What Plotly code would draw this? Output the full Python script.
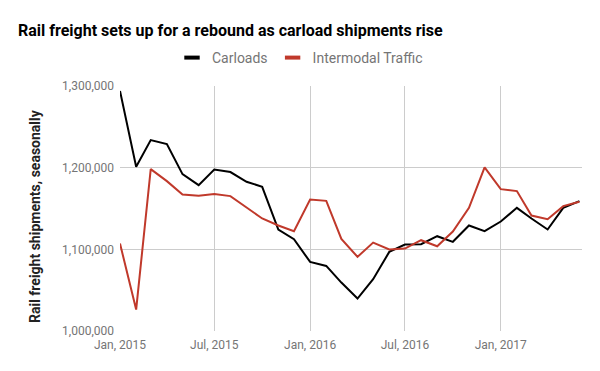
import plotly.graph_objects as go
import pandas as pd

months = pd.date_range("2015-01-01", "2017-06-01", freq="MS").strftime("%Y-%m-%d").tolist()

carloads = [1293900, 1201100, 1233800, 1228900, 1192100, 1178600, 1197800, 1194600,
            1182700, 1176600, 1124300, 1112400, 1084600, 1079700, 1059300, 1039700,
            1063400, 1096900, 1105900, 1106300, 1116100, 1109200, 1129200, 1122200,
            1134100, 1150800, 1137800, 1124300, 1150800, 1159000]

intermodal = [1107100, 1026200, 1198200, 1183500, 1167200, 1165600, 1167600, 1165200,
              1151200, 1137800, 1129200, 1122200, 1161100, 1159400, 1112800, 1090800,
              1108300, 1099800, 1101000, 1111200, 1103800, 1121800, 1150800, 1200300,
              1173700, 1171300, 1141400, 1136900, 1152900, 1158200]

x_ticks = ["2015-01-01", "2015-07-01", "2016-01-01", "2016-07-01", "2017-01-01"]
x_tick_labels = ["Jan, 2015", "Jul, 2015", "Jan, 2016", "Jul, 2016", "Jan, 2017"]
y_ticks = [1000000, 1100000, 1200000, 1300000]
y_tick_labels = ["1,000,000", "1,100,000", "1,200,000", "1,300,000"]

series = [("Carloads", carloads, "#000000"), ("Intermodal Traffic", intermodal, "#c0392b")]

fig = go.Figure()
for name, vals, color in series:
    fig.add_trace(go.Scatter(x=months, y=vals, mode="lines", name=name, showlegend=False,
                             line=dict(color=color, width=2)))
for name, vals, color in series:
    fig.add_trace(go.Scatter(x=[None], y=[None], mode="markers", name=name,
                             marker=dict(symbol="line-ew-open", size=11, color=color,
                                         line=dict(color=color, width=4))))

fig.update_layout(
    width=600, height=371,
    margin=dict(l=120, r=18, t=86, b=40, autoexpand=False),
    plot_bgcolor="white", paper_bgcolor="white",
    font=dict(family="Roboto", color="#757575"),
    title=dict(text="<b>Rail freight sets up for a rebound as carload shipments rise</b>",
               x=18/600, xanchor="left", y=1-30/371, yanchor="middle",
               font=dict(family="Roboto", size=16, color="#000000")),
    legend=dict(orientation="h", x=0.5, xref="container", xanchor="center",
                y=1+(86-58)/245, yref="paper",
                yanchor="middle", font=dict(size=14, color="#757575"),
                itemwidth=30, bgcolor="rgba(0,0,0,0)", tracegroupgap=0),
    showlegend=True,
    hovermode=False,
    annotations=[dict(text="<b>Rail freight shipments, seasonally</b>", textangle=-90,
                      xref="paper", yref="paper", x=(35-120)/462, y=(331-216)/245,
                      xanchor="center", yanchor="middle", showarrow=False,
                      font=dict(family="Roboto", size=14, color="#222222"))],
)
fig.update_xaxes(
    range=["2015-01-01", "2017-06-06"],
    tickvals=x_ticks, ticktext=x_tick_labels,
    showgrid=True, gridcolor="#cccccc", gridwidth=1,
    showline=False, zeroline=False, ticks="", automargin=False,
    ticklabelstandoff=5,
    tickfont=dict(size=12, color="#757575"),
)
fig.update_yaxes(
    range=[1000000, 1300000],
    tickvals=y_ticks, ticktext=y_tick_labels,
    showgrid=True, gridcolor="#cccccc", gridwidth=1,
    showline=False, zeroline=False, ticks="", automargin=False,
    ticklabelstandoff=5,
    tickfont=dict(size=12, color="#757575"),
)

fig.write_html("out.html", config={"displayModeBar": False},
               post_script="document.body.style.margin='0';document.body.style.overflow='hidden';")
